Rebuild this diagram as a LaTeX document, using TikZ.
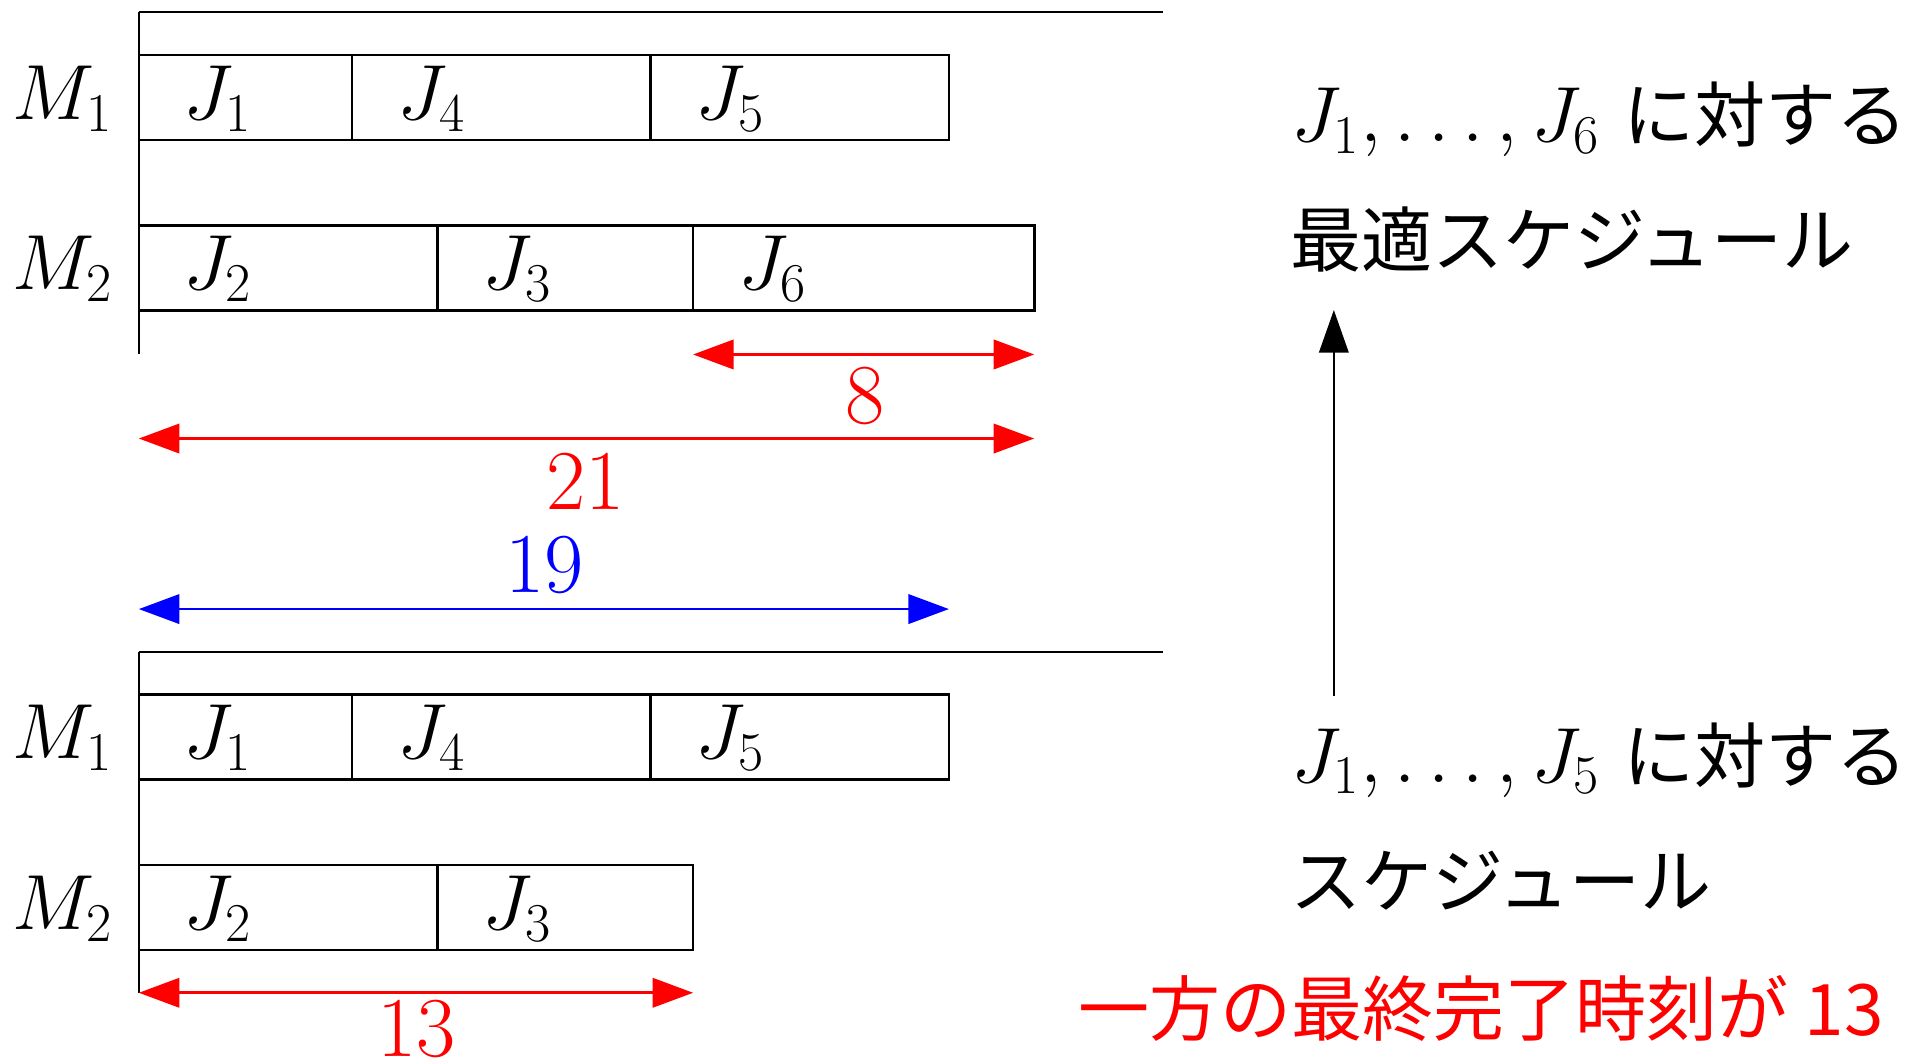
\RequirePackage{fix-cm}
\documentclass[tikz,border=0pt]{standalone}
\usepackage{fontspec}
\newfontfamily\cjk{Noto Sans CJK JP}
\usetikzlibrary{arrows.meta}
\tikzset{
  axisline/.style={line width=1.1pt},
  jobbox/.style={draw, line width=1.3pt},
  joblabel/.style={anchor=base west, inner sep=0pt, font=\fontsize{38.5}{42}\selectfont},
  mlabel/.style={anchor=base east, inner sep=0pt, font=\fontsize{38.5}{42}\selectfont},
  dimarrow/.style={line width=1.3pt, {Triangle[length=20pt,width=14.5pt]}-{Triangle[length=20pt,width=14.5pt]}},
  numlabel/.style={inner sep=0pt, font=\fontsize{42}{46}\selectfont},
  uparrow/.style={line width=1.1pt, -{Triangle[length=21pt,width=14.5pt]}},
  rtext/.style={anchor=base west, inner sep=0pt, font=\fontsize{38.5}{42}\selectfont},
  jtext/.style={anchor=base west, inner sep=0pt, font=\cjk\fontsize{35}{40}\selectfont},
}
\begin{document}
\begin{tikzpicture}[x=0.6pt,y=-0.6pt]
\useasboundingbox (0,0) rectangle (1568,873);
% ---------- upper chart ----------
\draw[axisline] (114,10) -- (955,10);
\draw[axisline] (114,10) -- (114,291);
\draw[jobbox] (114,45) rectangle (289,115);
\draw[jobbox] (289,45) rectangle (534,115);
\draw[jobbox] (534,45) rectangle (779,115);
\draw[jobbox] (114,185) rectangle (359,255);
\draw[jobbox] (359,185) rectangle (569,255);
\draw[jobbox] (569,185) rectangle (849,255);
\node[mlabel] (um1) at (93,98) {$M_1$};
\node[mlabel] (um2) at (93,238) {$M_2$};
\node[joblabel] (uj1) at (150,98) {$J_1$};
\node[joblabel] (uj4) at (326,98) {$J_4$};
\node[joblabel] (uj5) at (571,98) {$J_5$};
\node[joblabel] (uj2) at (150,238) {$J_2$};
\node[joblabel] (uj3) at (396,238) {$J_3$};
\node[joblabel] (uj6) at (606,238) {$J_6$};
% dimension arrows
\coordinate (a8l) at (569,291); \coordinate (a8r) at (849,291);
\draw[dimarrow, red] (a8l) -- (a8r);
\node[numlabel, red] (n8) at (710,325) {8};
\coordinate (a21l) at (114,360); \coordinate (a21r) at (849,360);
\draw[dimarrow, red] (a21l) -- (a21r);
\node[numlabel, red] (n21) at (481,395) {21};
\coordinate (a19l) at (114,500); \coordinate (a19r) at (779,500);
\draw[dimarrow, blue] (a19l) -- (a19r);
\node[numlabel, blue] (n19) at (447,464) {19};
% ---------- lower chart ----------
\draw[axisline] (114,535) -- (955,535);
\draw[axisline] (114,535) -- (114,815);
\draw[jobbox] (114,570) rectangle (289,640);
\draw[jobbox] (289,570) rectangle (534,640);
\draw[jobbox] (534,570) rectangle (779,640);
\draw[jobbox] (114,710) rectangle (359,780);
\draw[jobbox] (359,710) rectangle (569,780);
\node[mlabel] (lm1) at (93,623) {$M_1$};
\node[mlabel] (lm2) at (93,763) {$M_2$};
\node[joblabel] (lj1) at (150,623) {$J_1$};
\node[joblabel] (lj4) at (326,623) {$J_4$};
\node[joblabel] (lj5) at (571,623) {$J_5$};
\node[joblabel] (lj2) at (150,763) {$J_2$};
\node[joblabel] (lj3) at (396,763) {$J_3$};
\coordinate (a13l) at (114,815); \coordinate (a13r) at (569,815);
\draw[dimarrow, red] (a13l) -- (a13r);
\node[numlabel, red] (n13) at (342,845) {13};
% ---------- right texts ----------
\node[rtext] (t6a) at (1060,116) {$J_1,\ldots,J_6$\hspace{0.3em}{\cjk\fontsize{35}{40}\selectfont に対する}};
\node[jtext] (t6b) at (1059,219) {最適スケジュール};
\node[rtext] (t5a) at (1060,642) {$J_1,\ldots,J_5$\hspace{0.3em}{\cjk\fontsize{35}{40}\selectfont に対する}};
\node[jtext] (t5b) at (1059,745) {スケジュール};
\node[anchor=base west, inner sep=0pt, text=red, font=\cjk\fontsize{35}{40}\selectfont] (tred) at (885,850) {一方の最終完了時刻が 13};
\coordinate (arrbot) at (1095,571);
\coordinate (arrtop) at (1095,254.5);
\draw[uparrow] (arrbot) -- (arrtop);
\end{tikzpicture}
\end{document}
